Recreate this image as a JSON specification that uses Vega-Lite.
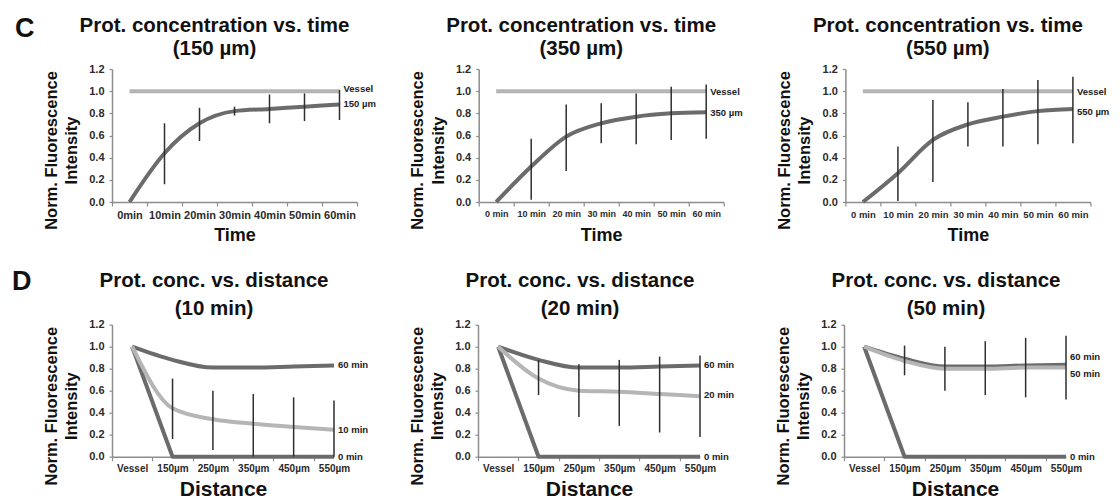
{
  "$schema": "https://vega.github.io/schema/vega-lite/v6.json",
  "background": "white",
  "padding": {"left": 12, "top": 14, "right": 5, "bottom": 5},
  "config": {
    "view": {"stroke": null},
    "font": "Liberation Sans",
    "axis": {"grid": false, "domainColor": "#8c8c8c", "domainWidth": 1.5, "tickColor": "#8c8c8c", "tickWidth": 1.2, "labelColor": "#2b2b2b", "labelFont": "Liberation Sans", "labelFontWeight": "bold", "titleFont": "Liberation Sans", "titleFontWeight": "bold", "titleColor": "#111111"},
    "axisX": {"tickSize": 4, "labelPadding": 3, "labelAngle": 0, "titleBaseline": "middle", "titleY": 33},
    "axisY": {"tickSize": 3, "labelPadding": 5, "labelFontSize": 11, "titleFontSize": 16.5, "titleLineHeight": 20.5, "titleX": -61, "titleY": 81, "titleBaseline": "middle", "titleAlign": "center", "titleAngle": 270},
    "title": {"font": "Liberation Sans", "fontSize": 20.5, "fontWeight": "bold", "color": "#111111", "anchor": "middle", "frame": "group", "offset": 4}
  },
  "datasets": {
    "series": [
      {"panel": "C150", "series": "150 µm", "x": "0min", "y": 0},
      {"panel": "C150", "series": "150 µm", "x": "10min", "y": 0.44, "lo": 0.16, "hi": 0.71},
      {"panel": "C150", "series": "150 µm", "x": "20min", "y": 0.71, "lo": 0.55, "hi": 0.85},
      {"panel": "C150", "series": "150 µm", "x": "30min", "y": 0.82, "lo": 0.78, "hi": 0.86},
      {"panel": "C150", "series": "150 µm", "x": "40min", "y": 0.84, "lo": 0.71, "hi": 0.97},
      {"panel": "C150", "series": "150 µm", "x": "50min", "y": 0.86, "lo": 0.73, "hi": 0.98},
      {"panel": "C150", "series": "150 µm", "x": "60min", "y": 0.88, "lo": 0.74, "hi": 1.01},
      {"panel": "C150", "series": "Vessel", "x": "0min", "y": 1},
      {"panel": "C150", "series": "Vessel", "x": "10min", "y": 1},
      {"panel": "C150", "series": "Vessel", "x": "20min", "y": 1},
      {"panel": "C150", "series": "Vessel", "x": "30min", "y": 1},
      {"panel": "C150", "series": "Vessel", "x": "40min", "y": 1},
      {"panel": "C150", "series": "Vessel", "x": "50min", "y": 1},
      {"panel": "C150", "series": "Vessel", "x": "60min", "y": 1},

      {"panel": "C350", "series": "350 µm", "x": "0 min", "y": 0},
      {"panel": "C350", "series": "350 µm", "x": "10 min", "y": 0.32, "lo": 0.02, "hi": 0.57},
      {"panel": "C350", "series": "350 µm", "x": "20 min", "y": 0.59, "lo": 0.28, "hi": 0.88},
      {"panel": "C350", "series": "350 µm", "x": "30 min", "y": 0.71, "lo": 0.53, "hi": 0.89},
      {"panel": "C350", "series": "350 µm", "x": "40 min", "y": 0.77, "lo": 0.52, "hi": 0.98},
      {"panel": "C350", "series": "350 µm", "x": "50 min", "y": 0.8, "lo": 0.56, "hi": 1.04},
      {"panel": "C350", "series": "350 µm", "x": "60 min", "y": 0.81, "lo": 0.57, "hi": 1.06},
      {"panel": "C350", "series": "Vessel", "x": "0 min", "y": 1},
      {"panel": "C350", "series": "Vessel", "x": "10 min", "y": 1},
      {"panel": "C350", "series": "Vessel", "x": "20 min", "y": 1},
      {"panel": "C350", "series": "Vessel", "x": "30 min", "y": 1},
      {"panel": "C350", "series": "Vessel", "x": "40 min", "y": 1},
      {"panel": "C350", "series": "Vessel", "x": "50 min", "y": 1},
      {"panel": "C350", "series": "Vessel", "x": "60 min", "y": 1},

      {"panel": "C550", "series": "550 µm", "x": "0 min", "y": 0},
      {"panel": "C550", "series": "550 µm", "x": "10 min", "y": 0.26, "lo": 0.01, "hi": 0.5},
      {"panel": "C550", "series": "550 µm", "x": "20 min", "y": 0.56, "lo": 0.18, "hi": 0.92},
      {"panel": "C550", "series": "550 µm", "x": "30 min", "y": 0.7, "lo": 0.5, "hi": 0.9},
      {"panel": "C550", "series": "550 µm", "x": "40 min", "y": 0.77, "lo": 0.5, "hi": 1.02},
      {"panel": "C550", "series": "550 µm", "x": "50 min", "y": 0.82, "lo": 0.52, "hi": 1.1},
      {"panel": "C550", "series": "550 µm", "x": "60 min", "y": 0.84, "lo": 0.53, "hi": 1.13},
      {"panel": "C550", "series": "Vessel", "x": "0 min", "y": 1},
      {"panel": "C550", "series": "Vessel", "x": "10 min", "y": 1},
      {"panel": "C550", "series": "Vessel", "x": "20 min", "y": 1},
      {"panel": "C550", "series": "Vessel", "x": "30 min", "y": 1},
      {"panel": "C550", "series": "Vessel", "x": "40 min", "y": 1},
      {"panel": "C550", "series": "Vessel", "x": "50 min", "y": 1},
      {"panel": "C550", "series": "Vessel", "x": "60 min", "y": 1},

      {"panel": "D10", "series": "0 min", "x": "Vessel", "y": 1},
      {"panel": "D10", "series": "0 min", "x": "150µm", "y": 0},
      {"panel": "D10", "series": "0 min", "x": "250µm", "y": 0},
      {"panel": "D10", "series": "0 min", "x": "350µm", "y": 0},
      {"panel": "D10", "series": "0 min", "x": "450µm", "y": 0},
      {"panel": "D10", "series": "0 min", "x": "550µm", "y": 0},
      {"panel": "D10", "series": "60 min", "x": "Vessel", "y": 1},
      {"panel": "D10", "series": "60 min", "x": "150µm", "y": 0.88},
      {"panel": "D10", "series": "60 min", "x": "250µm", "y": 0.81},
      {"panel": "D10", "series": "60 min", "x": "350µm", "y": 0.81},
      {"panel": "D10", "series": "60 min", "x": "450µm", "y": 0.82},
      {"panel": "D10", "series": "60 min", "x": "550µm", "y": 0.83},
      {"panel": "D10", "series": "10 min", "x": "Vessel", "y": 1},
      {"panel": "D10", "series": "10 min", "x": "150µm", "y": 0.44, "lo": 0.16, "hi": 0.71},
      {"panel": "D10", "series": "10 min", "x": "250µm", "y": 0.34, "lo": 0.06, "hi": 0.6},
      {"panel": "D10", "series": "10 min", "x": "350µm", "y": 0.3, "lo": 0, "hi": 0.57},
      {"panel": "D10", "series": "10 min", "x": "450µm", "y": 0.27, "lo": 0, "hi": 0.54},
      {"panel": "D10", "series": "10 min", "x": "550µm", "y": 0.245, "lo": 0, "hi": 0.51},

      {"panel": "D20", "series": "0 min", "x": "Vessel", "y": 1},
      {"panel": "D20", "series": "0 min", "x": "150µm", "y": 0},
      {"panel": "D20", "series": "0 min", "x": "250µm", "y": 0},
      {"panel": "D20", "series": "0 min", "x": "350µm", "y": 0},
      {"panel": "D20", "series": "0 min", "x": "450µm", "y": 0},
      {"panel": "D20", "series": "0 min", "x": "550µm", "y": 0},
      {"panel": "D20", "series": "60 min", "x": "Vessel", "y": 1},
      {"panel": "D20", "series": "60 min", "x": "150µm", "y": 0.88},
      {"panel": "D20", "series": "60 min", "x": "250µm", "y": 0.81},
      {"panel": "D20", "series": "60 min", "x": "350µm", "y": 0.81},
      {"panel": "D20", "series": "60 min", "x": "450µm", "y": 0.82},
      {"panel": "D20", "series": "60 min", "x": "550µm", "y": 0.83},
      {"panel": "D20", "series": "20 min", "x": "Vessel", "y": 1},
      {"panel": "D20", "series": "20 min", "x": "150µm", "y": 0.71, "lo": 0.56, "hi": 0.88},
      {"panel": "D20", "series": "20 min", "x": "250µm", "y": 0.6, "lo": 0.36, "hi": 0.84},
      {"panel": "D20", "series": "20 min", "x": "350µm", "y": 0.59, "lo": 0.28, "hi": 0.88},
      {"panel": "D20", "series": "20 min", "x": "450µm", "y": 0.57, "lo": 0.22, "hi": 0.91},
      {"panel": "D20", "series": "20 min", "x": "550µm", "y": 0.55, "lo": 0.18, "hi": 0.92},

      {"panel": "D50", "series": "0 min", "x": "Vessel", "y": 1},
      {"panel": "D50", "series": "0 min", "x": "150µm", "y": 0},
      {"panel": "D50", "series": "0 min", "x": "250µm", "y": 0},
      {"panel": "D50", "series": "0 min", "x": "350µm", "y": 0},
      {"panel": "D50", "series": "0 min", "x": "450µm", "y": 0},
      {"panel": "D50", "series": "0 min", "x": "550µm", "y": 0},
      {"panel": "D50", "series": "60 min", "x": "Vessel", "y": 1},
      {"panel": "D50", "series": "60 min", "x": "150µm", "y": 0.89},
      {"panel": "D50", "series": "60 min", "x": "250µm", "y": 0.82},
      {"panel": "D50", "series": "60 min", "x": "350µm", "y": 0.82},
      {"panel": "D50", "series": "60 min", "x": "450µm", "y": 0.83},
      {"panel": "D50", "series": "60 min", "x": "550µm", "y": 0.835},
      {"panel": "D50", "series": "50 min", "x": "Vessel", "y": 1},
      {"panel": "D50", "series": "50 min", "x": "150µm", "y": 0.87, "lo": 0.74, "hi": 1.01},
      {"panel": "D50", "series": "50 min", "x": "250µm", "y": 0.8, "lo": 0.6, "hi": 1.0},
      {"panel": "D50", "series": "50 min", "x": "350µm", "y": 0.8, "lo": 0.56, "hi": 1.05},
      {"panel": "D50", "series": "50 min", "x": "450µm", "y": 0.81, "lo": 0.54, "hi": 1.08},
      {"panel": "D50", "series": "50 min", "x": "550µm", "y": 0.81, "lo": 0.52, "hi": 1.1}
    ],
    "labels": [
      {"panel": "C150", "x": "60min", "label": "Vessel", "y": 1.02},
      {"panel": "C150", "x": "60min", "label": "150 µm", "y": 0.88},
      {"panel": "C350", "x": "60 min", "label": "Vessel", "y": 0.99},
      {"panel": "C350", "x": "60 min", "label": "350 µm", "y": 0.8},
      {"panel": "C550", "x": "60 min", "label": "Vessel", "y": 0.99},
      {"panel": "C550", "x": "60 min", "label": "550 µm", "y": 0.81},
      {"panel": "D10", "x": "550µm", "label": "60 min", "y": 0.83},
      {"panel": "D10", "x": "550µm", "label": "10 min", "y": 0.24},
      {"panel": "D10", "x": "550µm", "label": "0 min", "y": 0},
      {"panel": "D20", "x": "550µm", "label": "60 min", "y": 0.83},
      {"panel": "D20", "x": "550µm", "label": "20 min", "y": 0.56},
      {"panel": "D20", "x": "550µm", "label": "0 min", "y": 0},
      {"panel": "D50", "x": "550µm", "label": "60 min", "y": 0.905},
      {"panel": "D50", "x": "550µm", "label": "50 min", "y": 0.75},
      {"panel": "D50", "x": "550µm", "label": "0 min", "y": 0}
    ]
  },
  "bounds": "flush",
  "spacing": 255.7,
  "vconcat": [
    {
      "title": {"text": "C", "anchor": "start", "fontSize": 27, "dx": -97, "dy": 27, "offset": 0},
      "bounds": "flush",
      "spacing": 121.7,
      "hconcat": [
        {
          "width": 245, "height": 133,
          "title": {"text": ["Prot. concentration vs. time", "(150 µm)"], "dx": -20, "lineHeight": 23},
          "data": {"name": "series"},
          "transform": [{"filter": "datum.panel === 'C150'"}],
          "encoding": {
            "x": {"field": "x", "type": "ordinal", "scale": {"type": "band", "domain": ["0min", "10min", "20min", "30min", "40min", "50min", "60min"], "paddingInner": 0, "paddingOuter": 0}, "axis": {"title": "Time", "tickBand": "extent", "labelFontSize": 11, "titleFontSize": 18}},
            "y": {"field": "y", "type": "quantitative", "scale": {"domain": [0, 1.2], "nice": false}, "axis": {"title": ["Norm. Fluorescence", "Intensity"], "values": [0, 0.2, 0.4, 0.6, 0.8, 1, 1.2], "format": ".1f"}}
          },
          "layer": [
            {"transform": [{"filter": "indexof(['150 µm','350 µm','550 µm','60 min'], datum.series) >= 0"}], "mark": {"type": "line", "interpolate": "monotone", "strokeWidth": 4, "color": "#6b6b6b", "strokeJoin": "round"}, "encoding": {"detail": {"field": "series"}}},
            {"transform": [{"filter": "indexof(['Vessel','10 min','20 min','50 min'], datum.series) >= 0"}], "mark": {"type": "line", "interpolate": "monotone", "strokeWidth": 4, "color": "#b5b5b5", "strokeJoin": "round"}, "encoding": {"detail": {"field": "series"}}},
            {"transform": [{"filter": "isValid(datum.lo)"}], "mark": {"type": "rule", "color": "#2e2e2e", "strokeWidth": 1.5}, "encoding": {"y": {"field": "lo", "type": "quantitative"}, "y2": {"field": "hi"}}},
            {"data": {"name": "labels"}, "transform": [{"filter": "datum.panel === 'C150'"}], "mark": {"type": "text", "align": "left", "baseline": "middle", "dx": 4, "fontSize": 9.5, "fontWeight": "bold", "color": "#222222"}, "encoding": {"text": {"field": "label"}}}
          ]
        },
        {
          "width": 245, "height": 133,
          "title": {"text": ["Prot. concentration vs. time", "(350 µm)"], "dx": -20, "lineHeight": 23},
          "data": {"name": "series"},
          "transform": [{"filter": "datum.panel === 'C350'"}],
          "encoding": {
            "x": {"field": "x", "type": "ordinal", "scale": {"type": "band", "domain": ["0 min", "10 min", "20 min", "30 min", "40 min", "50 min", "60 min"], "paddingInner": 0, "paddingOuter": 0}, "axis": {"title": "Time", "tickBand": "extent", "labelFontSize": 9, "titleFontSize": 18}},
            "y": {"field": "y", "type": "quantitative", "scale": {"domain": [0, 1.2], "nice": false}, "axis": {"title": ["Norm. Fluorescence", "Intensity"], "values": [0, 0.2, 0.4, 0.6, 0.8, 1, 1.2], "format": ".1f"}}
          },
          "layer": [
            {"transform": [{"filter": "indexof(['150 µm','350 µm','550 µm','60 min'], datum.series) >= 0"}], "mark": {"type": "line", "interpolate": "monotone", "strokeWidth": 4, "color": "#6b6b6b", "strokeJoin": "round"}, "encoding": {"detail": {"field": "series"}}},
            {"transform": [{"filter": "indexof(['Vessel','10 min','20 min','50 min'], datum.series) >= 0"}], "mark": {"type": "line", "interpolate": "monotone", "strokeWidth": 4, "color": "#b5b5b5", "strokeJoin": "round"}, "encoding": {"detail": {"field": "series"}}},
            {"transform": [{"filter": "isValid(datum.lo)"}], "mark": {"type": "rule", "color": "#2e2e2e", "strokeWidth": 1.5}, "encoding": {"y": {"field": "lo", "type": "quantitative"}, "y2": {"field": "hi"}}},
            {"data": {"name": "labels"}, "transform": [{"filter": "datum.panel === 'C350'"}], "mark": {"type": "text", "align": "left", "baseline": "middle", "dx": 4, "fontSize": 9.5, "fontWeight": "bold", "color": "#222222"}, "encoding": {"text": {"field": "label"}}}
          ]
        },
        {
          "width": 245, "height": 133,
          "title": {"text": ["Prot. concentration vs. time", "(550 µm)"], "dx": -20, "lineHeight": 23},
          "data": {"name": "series"},
          "transform": [{"filter": "datum.panel === 'C550'"}],
          "encoding": {
            "x": {"field": "x", "type": "ordinal", "scale": {"type": "band", "domain": ["0 min", "10 min", "20 min", "30 min", "40 min", "50 min", "60 min"], "paddingInner": 0, "paddingOuter": 0}, "axis": {"title": "Time", "tickBand": "extent", "labelFontSize": 9.5, "titleFontSize": 18}},
            "y": {"field": "y", "type": "quantitative", "scale": {"domain": [0, 1.2], "nice": false}, "axis": {"title": ["Norm. Fluorescence", "Intensity"], "values": [0, 0.2, 0.4, 0.6, 0.8, 1, 1.2], "format": ".1f"}}
          },
          "layer": [
            {"transform": [{"filter": "indexof(['150 µm','350 µm','550 µm','60 min'], datum.series) >= 0"}], "mark": {"type": "line", "interpolate": "monotone", "strokeWidth": 4, "color": "#6b6b6b", "strokeJoin": "round"}, "encoding": {"detail": {"field": "series"}}},
            {"transform": [{"filter": "indexof(['Vessel','10 min','20 min','50 min'], datum.series) >= 0"}], "mark": {"type": "line", "interpolate": "monotone", "strokeWidth": 4, "color": "#b5b5b5", "strokeJoin": "round"}, "encoding": {"detail": {"field": "series"}}},
            {"transform": [{"filter": "isValid(datum.lo)"}], "mark": {"type": "rule", "color": "#2e2e2e", "strokeWidth": 1.5}, "encoding": {"y": {"field": "lo", "type": "quantitative"}, "y2": {"field": "hi"}}},
            {"data": {"name": "labels"}, "transform": [{"filter": "datum.panel === 'C550'"}], "mark": {"type": "text", "align": "left", "baseline": "middle", "dx": 4, "fontSize": 9.5, "fontWeight": "bold", "color": "#222222"}, "encoding": {"text": {"field": "label"}}}
          ]
        }
      ]
    },
    {
      "title": {"text": "D", "anchor": "start", "fontSize": 27, "dx": -100, "dy": 25, "offset": 0},
      "bounds": "flush",
      "spacing": 144,
      "hconcat": [
        {
          "width": 222, "height": 132,
          "title": {"text": ["Prot. conc. vs. distance", "(10 min)"], "dx": -9, "lineHeight": 28, "offset": -1},
          "data": {"name": "series"},
          "transform": [{"filter": "datum.panel === 'D10'"}],
          "encoding": {
            "x": {"field": "x", "type": "ordinal", "scale": {"type": "point", "domain": ["Vessel", "150µm", "250µm", "350µm", "450µm", "550µm"], "padding": 0.25, "align": 1}, "axis": {"title": "Distance", "tickOffset": -20.2, "labelOffset": 20.2, "labelFontSize": 10, "titleFontSize": 21}},
            "y": {"field": "y", "type": "quantitative", "scale": {"domain": [0, 1.2], "nice": false}, "axis": {"title": ["Norm. Fluorescence", "Intensity"], "values": [0, 0.2, 0.4, 0.6, 0.8, 1, 1.2], "format": ".1f"}}
          },
          "layer": [
            {"transform": [{"filter": "datum.series === '0 min'"}], "mark": {"type": "line", "strokeWidth": 4, "color": "#6b6b6b", "strokeJoin": "round"}, "encoding": {"detail": {"field": "series"}}},
            {"transform": [{"filter": "indexof(['150 µm','350 µm','550 µm','60 min'], datum.series) >= 0"}], "mark": {"type": "line", "interpolate": "monotone", "strokeWidth": 4, "color": "#6b6b6b", "strokeJoin": "round"}, "encoding": {"detail": {"field": "series"}}},
            {"transform": [{"filter": "indexof(['Vessel','10 min','20 min','50 min'], datum.series) >= 0"}], "mark": {"type": "line", "interpolate": "monotone", "strokeWidth": 4, "color": "#b5b5b5", "strokeJoin": "round"}, "encoding": {"detail": {"field": "series"}}},
            {"transform": [{"filter": "isValid(datum.lo)"}], "mark": {"type": "rule", "color": "#2e2e2e", "strokeWidth": 1.5}, "encoding": {"y": {"field": "lo", "type": "quantitative"}, "y2": {"field": "hi"}}},
            {"data": {"name": "labels"}, "transform": [{"filter": "datum.panel === 'D10'"}], "mark": {"type": "text", "align": "left", "baseline": "middle", "dx": 4, "fontSize": 9.5, "fontWeight": "bold", "color": "#222222"}, "encoding": {"text": {"field": "label"}}}
          ]
        },
        {
          "width": 222, "height": 132,
          "title": {"text": ["Prot. conc. vs. distance", "(20 min)"], "dx": -9, "lineHeight": 28, "offset": -1},
          "data": {"name": "series"},
          "transform": [{"filter": "datum.panel === 'D20'"}],
          "encoding": {
            "x": {"field": "x", "type": "ordinal", "scale": {"type": "point", "domain": ["Vessel", "150µm", "250µm", "350µm", "450µm", "550µm"], "padding": 0.25, "align": 1}, "axis": {"title": "Distance", "tickOffset": -20.2, "labelOffset": 20.2, "labelFontSize": 10, "titleFontSize": 21}},
            "y": {"field": "y", "type": "quantitative", "scale": {"domain": [0, 1.2], "nice": false}, "axis": {"title": ["Norm. Fluorescence", "Intensity"], "values": [0, 0.2, 0.4, 0.6, 0.8, 1, 1.2], "format": ".1f"}}
          },
          "layer": [
            {"transform": [{"filter": "datum.series === '0 min'"}], "mark": {"type": "line", "strokeWidth": 4, "color": "#6b6b6b", "strokeJoin": "round"}, "encoding": {"detail": {"field": "series"}}},
            {"transform": [{"filter": "indexof(['150 µm','350 µm','550 µm','60 min'], datum.series) >= 0"}], "mark": {"type": "line", "interpolate": "monotone", "strokeWidth": 4, "color": "#6b6b6b", "strokeJoin": "round"}, "encoding": {"detail": {"field": "series"}}},
            {"transform": [{"filter": "indexof(['Vessel','10 min','20 min','50 min'], datum.series) >= 0"}], "mark": {"type": "line", "interpolate": "monotone", "strokeWidth": 4, "color": "#b5b5b5", "strokeJoin": "round"}, "encoding": {"detail": {"field": "series"}}},
            {"transform": [{"filter": "isValid(datum.lo)"}], "mark": {"type": "rule", "color": "#2e2e2e", "strokeWidth": 1.5}, "encoding": {"y": {"field": "lo", "type": "quantitative"}, "y2": {"field": "hi"}}},
            {"data": {"name": "labels"}, "transform": [{"filter": "datum.panel === 'D20'"}], "mark": {"type": "text", "align": "left", "baseline": "middle", "dx": 4, "fontSize": 9.5, "fontWeight": "bold", "color": "#222222"}, "encoding": {"text": {"field": "label"}}}
          ]
        },
        {
          "width": 222, "height": 132,
          "title": {"text": ["Prot. conc. vs. distance", "(50 min)"], "dx": -9, "lineHeight": 28, "offset": -1},
          "data": {"name": "series"},
          "transform": [{"filter": "datum.panel === 'D50'"}],
          "encoding": {
            "x": {"field": "x", "type": "ordinal", "scale": {"type": "point", "domain": ["Vessel", "150µm", "250µm", "350µm", "450µm", "550µm"], "padding": 0.25, "align": 1}, "axis": {"title": "Distance", "tickOffset": -20.2, "labelOffset": 20.2, "labelFontSize": 10, "titleFontSize": 21}},
            "y": {"field": "y", "type": "quantitative", "scale": {"domain": [0, 1.2], "nice": false}, "axis": {"title": ["Norm. Fluorescence", "Intensity"], "values": [0, 0.2, 0.4, 0.6, 0.8, 1, 1.2], "format": ".1f"}}
          },
          "layer": [
            {"transform": [{"filter": "datum.series === '0 min'"}], "mark": {"type": "line", "strokeWidth": 4, "color": "#6b6b6b", "strokeJoin": "round"}, "encoding": {"detail": {"field": "series"}}},
            {"transform": [{"filter": "indexof(['150 µm','350 µm','550 µm','60 min'], datum.series) >= 0"}], "mark": {"type": "line", "interpolate": "monotone", "strokeWidth": 4, "color": "#6b6b6b", "strokeJoin": "round"}, "encoding": {"detail": {"field": "series"}}},
            {"transform": [{"filter": "indexof(['Vessel','10 min','20 min','50 min'], datum.series) >= 0"}], "mark": {"type": "line", "interpolate": "monotone", "strokeWidth": 4, "color": "#b5b5b5", "strokeJoin": "round"}, "encoding": {"detail": {"field": "series"}}},
            {"transform": [{"filter": "isValid(datum.lo)"}], "mark": {"type": "rule", "color": "#2e2e2e", "strokeWidth": 1.5}, "encoding": {"y": {"field": "lo", "type": "quantitative"}, "y2": {"field": "hi"}}},
            {"data": {"name": "labels"}, "transform": [{"filter": "datum.panel === 'D50'"}], "mark": {"type": "text", "align": "left", "baseline": "middle", "dx": 4, "fontSize": 9.5, "fontWeight": "bold", "color": "#222222"}, "encoding": {"text": {"field": "label"}}}
          ]
        }
      ]
    }
  ]
}
